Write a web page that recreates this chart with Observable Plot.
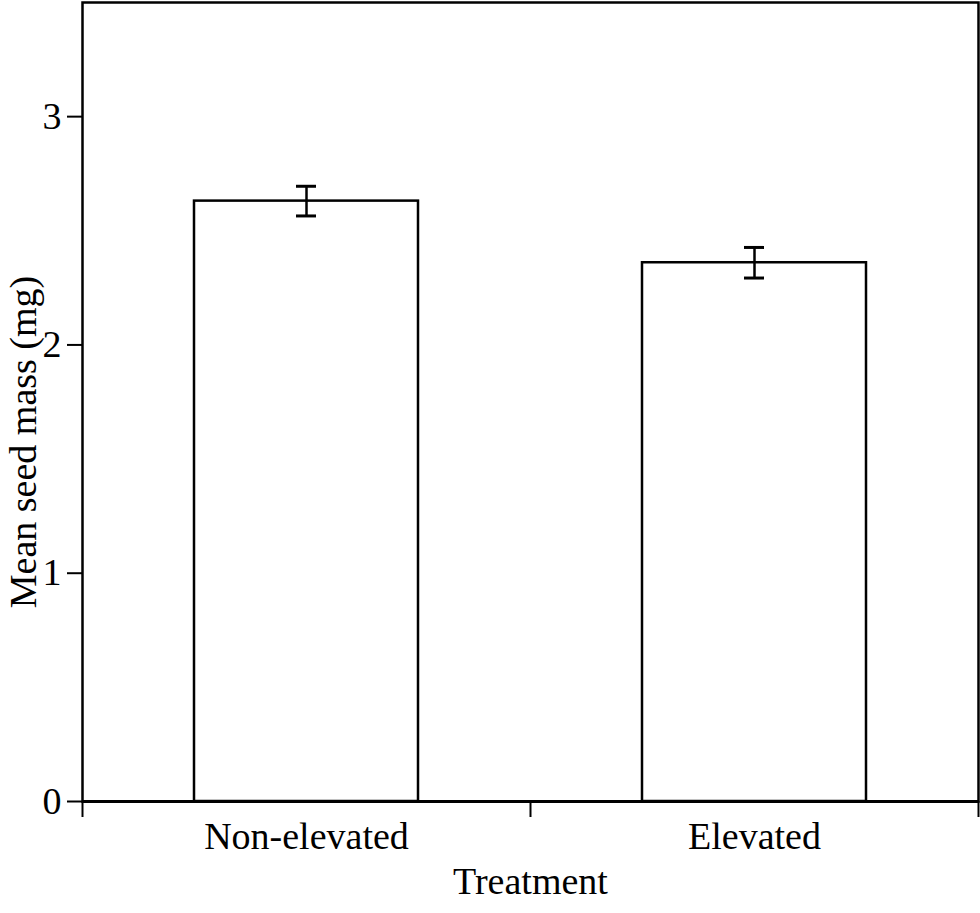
<!DOCTYPE html>
<html>
<head>
<meta charset="utf-8">
<script src="https://cdn.jsdelivr.net/npm/d3@7"></script>
<script src="https://cdn.jsdelivr.net/npm/@observablehq/plot@0.6"></script>
<style>
  html, body { margin: 0; padding: 0; background: #fff; }
  #chart svg { display: block; }
  #chart svg text { font-family: "Liberation Serif", "Times New Roman", serif; }
</style>
</head>
<body>
<div id="chart"></div>
<script>
// Mean seed mass per treatment, with standard errors
const treatments = ["Non-elevated", "Elevated"];
const meanMass = [2.63, 2.36];
const stdErr = [0.065, 0.067];
const yTicks = [0, 1, 2, 3];

// Each treatment sits in a unit-wide slot on the x scale: slot i spans [i, i+1]
const rows = treatments.map((t, i) => ({
  treatment: t,
  slot: i,
  center: i + 0.5,
  mean: meanMass[i],
  lo: meanMass[i] - stdErr[i],
  hi: meanMass[i] + stdErr[i]
}));
const slotEdges = d3.range(treatments.length + 1);

const font = "Liberation Serif";
const size = 38;

const chart = Plot.plot({
  width: 980,
  height: 913,
  marginLeft: 82,
  marginRight: 2,
  marginTop: 2,
  marginBottom: 112,
  style: { fontFamily: font, fontSize: `${size}px`, color: "#000", background: "#fff" },
  x: { type: "linear", domain: [0, treatments.length] },
  y: { domain: [0, 3.5] },
  marks: [
    // Bars: each fills the middle half of its slot
    Plot.rectY(rows, {
      x1: d => d.slot + 0.25,
      x2: d => d.slot + 0.75,
      y1: 0,
      y2: "mean",
      fill: "white",
      stroke: "black",
      strokeWidth: 2.5
    }),
    // Error bars: vertical stem plus caps
    Plot.ruleX(rows, { x: "center", y1: "lo", y2: "hi", stroke: "black", strokeWidth: 2.5 }),
    Plot.ruleY(rows, { y: "hi", x1: "center", x2: "center", insetLeft: -10, insetRight: -10, stroke: "black", strokeWidth: 3 }),
    Plot.ruleY(rows, { y: "lo", x1: "center", x2: "center", insetLeft: -10, insetRight: -10, stroke: "black", strokeWidth: 3 }),
    // Box around the plotting area
    Plot.frame({ stroke: "black", strokeWidth: 2.5 }),
    Plot.ruleY([0], { stroke: "black", strokeWidth: 3 }),
    // Y axis ticks and labels
    Plot.axisY({ ticks: yTicks, tickSize: 15, tickPadding: 6, tickFormat: d3.format("d"), strokeWidth: 2, label: null, fontFamily: font, fontSize: size }),
    // X axis: ticks at slot edges, labels at slot centers
    Plot.axisX({ ticks: slotEdges, tickSize: 16, tickFormat: () => "", strokeWidth: 2, label: null }),
    Plot.axisX({ ticks: rows.map(d => d.center), tickSize: 0, tickPadding: 0, tickFormat: v => treatments[Math.floor(v)], label: null, lineAnchor: "middle", dy: 35, fontFamily: font, fontSize: size }),
    // Axis titles
    Plot.text(["Treatment"], { frameAnchor: "bottom", lineAnchor: "middle", dy: 80, fontFamily: font, fontSize: size }),
    Plot.text(["Mean seed mass (mg)"], { frameAnchor: "left", rotate: -90, textAnchor: "middle", lineAnchor: "middle", dx: -59, dy: 40, fontFamily: font, fontSize: size })
  ]
});

document.getElementById("chart").appendChild(chart);
</script>
</body>
</html>
